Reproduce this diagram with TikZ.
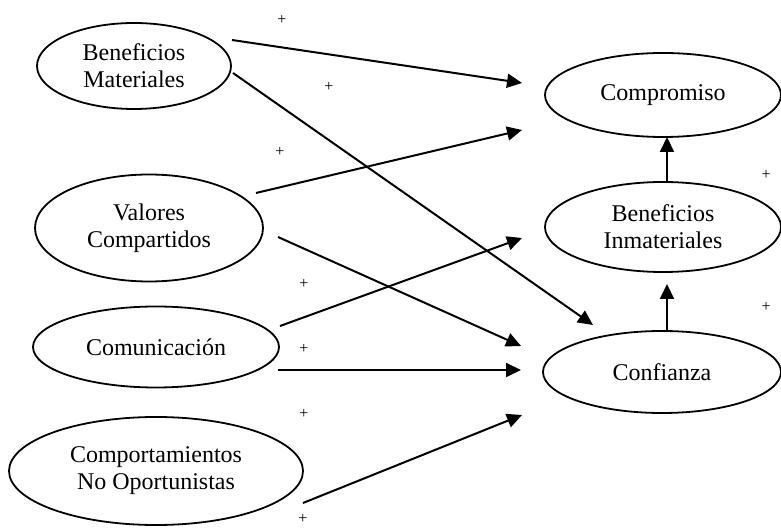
\documentclass[tikz,border=0pt]{standalone}
\usepackage{fontspec}
\setmainfont{Liberation Serif}
\usetikzlibrary{shapes.geometric,arrows.meta}
\begin{document}
\begin{tikzpicture}[x=0.5pt,y=-0.5pt,
  var/.style={draw,ellipse,line width=0.9pt,inner sep=0pt,align=center,
    font=\fontsize{12}{13.5}\selectfont},
  conn/.style={line width=1pt,-{Triangle[length=7.5pt,width=7pt]}},
  sign/.style={font=\fontsize{8}{9}\selectfont,inner sep=0pt}]
\useasboundingbox (0,0) rectangle (781,528);
% nodes
\node[var,minimum width=97pt,minimum height=43pt] (bm) at (134,66) {Beneficios\\Materiales};
\node[var,minimum width=114pt,minimum height=53.5pt] (vc) at (149,228) {Valores\\Compartidos};
\node[var,minimum width=123pt,minimum height=40.5pt] (com) at (156,347) {Comunicación};
\node[var,minimum width=147pt,minimum height=54pt] (cno) at (156,471) {Comportamientos\\No Oportunistas};
\node[var,minimum width=118pt,minimum height=42pt] (cmp) at (663,95) {Compromiso};
\node[var,minimum width=118pt,minimum height=45pt] (bi) at (663,227) {Beneficios\\Inmateriales};
\node[var,minimum width=119pt,minimum height=41pt] (cf) at (662,372) {Confianza};
% connector ends
\coordinate (bm1) at (232,40);   \coordinate (t1) at (522,83);
\coordinate (bm2) at (233,73);   \coordinate (t2) at (593,325);
\coordinate (vc1) at (256,193);  \coordinate (t3) at (522,130);
\coordinate (vc2) at (278,237);  \coordinate (t4) at (521,346);
\coordinate (com1) at (280,326); \coordinate (t5) at (522,238);
\coordinate (com2) at (278,370); \coordinate (t6) at (521,370);
\coordinate (cno1) at (303,503); \coordinate (t7) at (522,415);
\coordinate (cf1) at (667,330);  \coordinate (t8) at (667,284);
\coordinate (bi1) at (667,182);  \coordinate (t9) at (667,137);
% connectors
\draw[conn] (bm1) -- (t1);
\draw[conn] (bm2) -- (t2);
\draw[conn] (vc1) -- (t3);
\draw[conn] (vc2) -- (t4);
\draw[conn] (com1) -- (t5);
\draw[conn] (com2) -- (t6);
\draw[conn] (cno1) -- (t7);
\draw[conn] (cf1) -- (t8);
\draw[conn] (bi1) -- (t9);
% signs
\node[sign] (s1) at (282,20) {+};
\node[sign] (s2) at (329,87) {+};
\node[sign] (s3) at (280,152) {+};
\node[sign] (s4) at (304,284) {+};
\node[sign] (s5) at (304,349) {+};
\node[sign] (s6) at (304,414) {+};
\node[sign] (s7) at (303,519) {+};
\node[sign] (s8) at (766,175) {+};
\node[sign] (s9) at (766,307) {+};
\end{tikzpicture}
\end{document}
